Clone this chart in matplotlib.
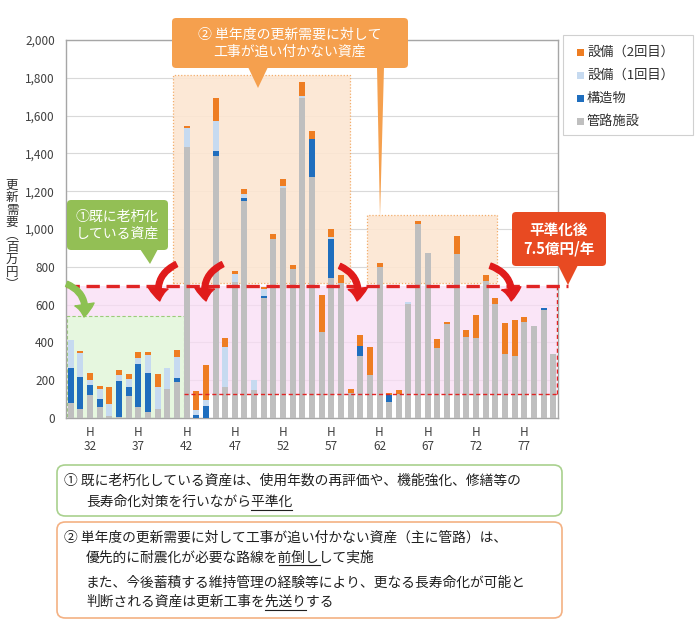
import numpy as np
import matplotlib
matplotlib.use("Agg")
import matplotlib.pyplot as plt
from matplotlib.patches import Rectangle, FancyBboxPatch, Polygon, FancyArrowPatch

plt.rcParams['font.family'] = ['Noto Sans CJK JP', 'DejaVu Sans']

# ---- data (H30 .. H80) ----
years = list(range(30, 81))
pipes = [80, 45, 122, 56, 10, 5, 116, 57, 33, 46, 152, 189, 1435, 0, 0, 1388, 166, 721, 1148, 150,
         633, 947, 1215, 788, 1691, 1276, 457, 742, 713, 134, 330, 227, 801, 83, 125, 605, 1026, 875,
         369, 496, 866, 427, 421, 726, 603, 339, 330, 510, 488, 572, 337]
struct = [185, 170, 53, 44, 0, 190, 50, 229, 203, 0, 0, 21, 0, 16, 65, 26, 0, 0, 17, 0,
          12, 0, 0, 0, 0, 200, 0, 203, 0, 0, 50, 0, 0, 39, 0, 0, 0, 0,
          0, 0, 0, 0, 0, 0, 0, 0, 0, 0, 0, 8, 0]
equip1 = [150, 130, 26, 55, 64, 30, 39, 30, 97, 120, 114, 111, 100, 26, 30, 157, 211, 39, 18, 51,
          35, 0, 12, 0, 14, 0, 0, 15, 0, 0, 0, 0, 0, 0, 0, 7, 0, 0,
          0, 0, 0, 0, 0, 0, 0, 0, 0, 0, 0, 0, 0]
equip2 = [0, 10, 39, 14, 92, 31, 26, 35, 16, 65, 0, 39, 12, 100, 185, 123, 44, 18, 27, 0,
          15, 25, 37, 21, 71, 40, 194, 40, 44, 18, 59, 147, 21, 12, 23, 0, 18, 0,
          47, 14, 97, 39, 122, 31, 30, 162, 188, 26, 0, 0, 0]
tick_years = [32, 37, 42, 47, 52, 57, 62, 67, 72, 77]
series_names = ['管路施設', '構造物', '設備（1回目）', '設備（2回目）']
colors = ['#BFBFBF', '#1F6EBE', '#C6DAF0', '#EE7D22']
level = 700  # 平準化後 7.5億円/年

fig = plt.figure(figsize=(6.97, 6.26), dpi=100)
ax = fig.add_axes([0.0947, 0.3323, 0.7059, 0.6038])
ax.set_xlim(29.5, 80.5)
ax.set_ylim(0, 2000)

# background regions
ax.add_patch(Rectangle((29.5, 125), 50.9, 575, facecolor='#F9DDF5', edgecolor='none', alpha=0.75, zorder=1))
ax.add_patch(Rectangle((29.6, 0), 12.1, 540, facecolor='#E6F7DF', edgecolor='#9CCB7A',
                       linestyle=(0, (3, 2)), lw=0.8, zorder=1.2))
ax.add_patch(Rectangle((40.6, 714), 18.3, 1100, facecolor='#FCE6D2', edgecolor='#F2A65E',
                       linestyle=(0, (1, 1.5)), lw=0.9, alpha=0.9, zorder=1.1))
ax.add_patch(Rectangle((60.7, 714), 13.5, 360, facecolor='#FCE6D2', edgecolor='#F2A65E',
                       linestyle=(0, (1, 1.5)), lw=0.9, alpha=0.9, zorder=1.1))

ax.set_yticks(range(0, 2001, 200))
ax.set_yticklabels(['{:,}'.format(v) for v in range(0, 2001, 200)], fontsize=8.5, color='#404040')
ax.set_xticks(tick_years)
ax.set_xticklabels(['H\n{}'.format(y) for y in tick_years], fontsize=8.5, color='#404040', linespacing=1.1)
ax.tick_params(axis='x', length=0, pad=6)
ax.tick_params(axis='y', length=0, pad=8)
ax.grid(axis='y', color='#D9D9D9', lw=0.8, zorder=0)
ax.set_axisbelow(True)
for s in ax.spines.values():
    s.set_color('#A6A6A6')
    s.set_linewidth(1.0)

# stacked bars
bottom = np.zeros(len(years))
for vals, name, col in zip([pipes, struct, equip1, equip2], series_names, colors):
    ax.bar(years, vals, bottom=bottom, width=0.62, color=col, label=name, zorder=3)
    bottom += np.array(vals)

# level lines
ax.plot([29.5, 81.5], [level, level], color='#E02424', lw=2.4, ls=(0, (4, 2)), zorder=4, clip_on=False)
ax.plot([41.7, 80.4], [125, 125], color='#E02424', lw=1.0, ls=(0, (3, 2)), zorder=4)
ax.plot([80.4, 80.4], [125, level], color='#E02424', lw=1.0, ls=(0, (3, 2)), zorder=4)

# curved arrows
def curved(p0, p1, rad, col):
    ax.add_patch(FancyArrowPatch(p0, p1, connectionstyle='arc3,rad={}'.format(rad),
                                 arrowstyle='simple,head_length=9,head_width=14,tail_width=4',
                                 color=col, zorder=6, clip_on=False, mutation_scale=1))

curved((41.2, 820), (39.3, 605), 0.45, '#E01B1B')
curved((46.0, 820), (44.1, 605), 0.45, '#E01B1B')
curved((57.6, 810), (59.6, 605), -0.45, '#E01B1B')
curved((73.2, 810), (75.6, 605), -0.45, '#E01B1B')
curved((29.3, 715), (31.3, 520), -0.45, '#8CC152')

# callouts (figure coordinates)
def fx(px):
    return px / 697.0

def fy(py):
    return 1 - py / 626.0

def callout(x0, y0, x1, y1, col, text, size, tails, bold=False):
    fig.patches.append(FancyBboxPatch((fx(x0), fy(y1)), fx(x1) - fx(x0), fy(y0) - fy(y1),
                                      boxstyle='round,pad=0,rounding_size=0.006', transform=fig.transFigure,
                                      facecolor=col, edgecolor='none', zorder=10))
    for tail in tails:
        fig.patches.append(Polygon([(fx(a), fy(b)) for a, b in tail], closed=True, transform=fig.transFigure,
                                   facecolor=col, edgecolor='none', zorder=10))
    fig.text(fx((x0 + x1) / 2), fy((y0 + y1) / 2), text, ha='center', va='center', color='white',
             fontsize=size, fontweight='bold' if bold else 'normal', linespacing=1.25, zorder=11)

callout(172, 18, 408, 68, '#F5A04E', '② 単年度の更新需要に対して\n工事が追い付かない資産', 10,
        [[(248, 67), (268, 67), (258, 88)], [(377, 67), (384, 67), (380, 218)]])
callout(67, 200, 168, 250, '#93BF55', '①既に老朽化\nしている資産', 10,
        [[(140, 249), (158, 249), (150, 264)]])
callout(512, 212, 606, 266, '#E84A22', '平準化後\n7.5億円/年', 10.5,
        [[(558, 265), (578, 265), (568, 285)]], bold=True)

# legend
fig.patches.append(Rectangle((fx(563), fy(135)), fx(693) - fx(563), fy(35) - fy(135), transform=fig.transFigure,
                             facecolor='white', edgecolor='#D0D0D0', lw=0.8, zorder=9))
for i, (name, col) in enumerate(zip(series_names[::-1], colors[::-1])):
    py = 52 + i * 23
    fig.patches.append(Rectangle((fx(577), fy(py + 3.5)), fx(7), fx(7) * 697 / 626, transform=fig.transFigure,
                                 facecolor=col, edgecolor='none', zorder=10))
    fig.text(fx(587), fy(py), name, ha='left', va='center', fontsize=9.5, color='#303030', zorder=11)

# y label (vertical writing)
fig.text(fx(12), fy(235), '\n'.join('更新需要︵百万円︶'), ha='center', va='center', fontsize=9,
         linespacing=0.95, color='#303030')

# explanatory boxes below the chart
fig.patches.append(FancyBboxPatch((fx(57), fy(516)), fx(505), fy(465) - fy(516),
                                  boxstyle='round,pad=0,rounding_size=0.012', transform=fig.transFigure,
                                  facecolor='white', edgecolor='#A9D18E', lw=1.2))
fig.patches.append(FancyBboxPatch((fx(57), fy(618)), fx(505), fy(522) - fy(618),
                                  boxstyle='round,pad=0,rounding_size=0.012', transform=fig.transFigure,
                                  facecolor='white', edgecolor='#F4B183', lw=1.2))

renderer = fig.canvas.get_renderer()
body_size = 9.9

def text_right(px, py, s):
    t = fig.text(fx(px), fy(py), s, ha='left', va='center', fontsize=body_size)
    bb = t.get_window_extent(renderer).transformed(fig.transFigure.inverted())
    t.remove()
    return bb

def write_line(px, py, text, under=None):
    fig.text(fx(px), fy(py), text, ha='left', va='center', fontsize=body_size, color='#202020')
    if under:
        i = text.index(under)
        x0 = text_right(px, py, text[:i]).x1 if i else fx(px)
        bb = text_right(px, py, text[:i + len(under)])
        fig.add_artist(plt.Line2D([x0, bb.x1], [bb.y0 - 0.001, bb.y0 - 0.001], color='#202020', lw=0.8,
                                  transform=fig.transFigure))

write_line(64, 481, '① 既に老朽化している資産は、使用年数の再評価や、機能強化、修繕等の')
write_line(86, 502, '長寿命化対策を行いながら平準化', '平準化')
write_line(64, 538, '② 単年度の更新需要に対して工事が追い付かない資産（主に管路）は、')
write_line(86, 557, '優先的に耐震化が必要な路線を前倒しして実施', '前倒し')
write_line(86, 583, 'また、今後蓄積する維持管理の経験等により、更なる長寿命化が可能と')
write_line(86, 602, '判断される資産は更新工事を先送りする', '先送り')

fig.savefig('out.png', dpi=100)
